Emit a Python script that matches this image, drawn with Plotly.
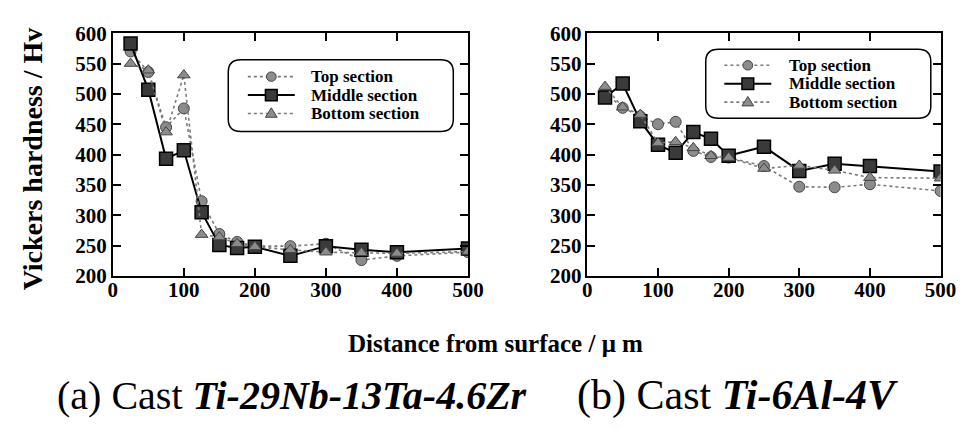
import plotly.graph_objects as go

# ---------------- data ----------------
distance = [25, 50, 75, 100, 125, 150, 175, 200, 250, 300, 350, 400, 500]

# (a) Cast Ti-29Nb-13Ta-4.6Zr
a_top    = [570, 536, 445, 476, 323, 269, 256, 249, 249, 253, 226, 233, 239]
a_middle = [583, 507, 393, 407, 305, 251, 246, 248, 233, 249, 243, 239, 245]
a_bottom = [550, 539, 437, 531, 268, 264, 253, 248, 243, 239, 238, 237, 240]

# (b) Cast Ti-6Al-4V
b_top    = [502, 477, 463, 450, 454, 406, 396, 395, 381, 347, 346, 351, 340]
b_middle = [494, 517, 455, 416, 403, 437, 426, 398, 413, 373, 385, 381, 372]
b_bottom = [512, 478, 466, 419, 421, 411, 398, 395, 377, 382, 374, 362, 361]

series_names = ["Top section", "Middle section", "Bottom section"]
x_ticks = [0, 100, 200, 300, 400, 500]
y_ticks = [200, 250, 300, 350, 400, 450, 500, 550, 600]

FONT = "Liberation Serif, Times New Roman, serif"
GRAY = "#7a7a7a"
MFILL = "#8c8c8c"
MEDGE = "#444444"
SQFILL = "#3a3a3a"

styles = {
    "Top section": dict(line=dict(color=GRAY, width=1.6, dash="dot"),
                        marker=dict(symbol="circle", size=11, color=MFILL,
                                    line=dict(color=MEDGE, width=1))),
    "Middle section": dict(line=dict(color="black", width=2),
                           marker=dict(symbol="square", size=13, color=SQFILL,
                                       line=dict(color="black", width=1.5))),
    "Bottom section": dict(line=dict(color=GRAY, width=1.6, dash="dot"),
                           marker=dict(symbol="triangle-up", size=11, color=MFILL,
                                       line=dict(color=MEDGE, width=1))),
}

fig = go.Figure()
panels = [
    ("x", "y", [a_top, a_middle, a_bottom]),
    ("x2", "y2", [b_top, b_middle, b_bottom]),
]
for xa, ya, data in panels:
    for name, vals in zip(series_names, data):
        st = styles[name]
        fig.add_trace(go.Scatter(
            x=distance, y=vals, mode="lines+markers", name=name,
            xaxis=xa, yaxis=ya,
            line=st["line"], marker=st["marker"], showlegend=False,
        ))

axis_common = dict(
    showline=True, linecolor="black", linewidth=1.5, mirror="ticks",
    ticks="inside", ticklen=8, tickwidth=1.5, tickcolor="black",
    showgrid=False, zeroline=False,
    tickfont=dict(family=FONT, size=21, color="black", weight="bold"),
)

W, H = 975, 430
def X(p):
    return p / W
def Y(p):
    return 1 - p / H

xa_extra = dict(ticklabelstandoff=-6)

fig.update_layout(
    width=W, height=H,
    margin=dict(l=0, r=0, t=0, b=0),
    paper_bgcolor="white", plot_bgcolor="white",
    font=dict(family=FONT, color="black"),
    showlegend=False,
    xaxis=dict(axis_common, **xa_extra, domain=[X(102), X(465)], range=[0, 500],
               tickvals=x_ticks, anchor="y"),
    yaxis=dict(axis_common, domain=[Y(271), Y(14)], range=[200, 600],
               tickvals=y_ticks, anchor="x"),
    xaxis2=dict(axis_common, **xa_extra, domain=[X(587), X(948)], range=[0, 500],
                tickvals=x_ticks, anchor="y2"),
    yaxis2=dict(axis_common, domain=[Y(271), Y(14)], range=[200, 600],
                tickvals=y_ticks, anchor="x2"),
)

def rounded_box(x0, y0, x1, y1, r):
    pts = (f"M {X(x0 + r)},{Y(y0)} L {X(x1 - r)},{Y(y0)} "
           f"Q {X(x1)},{Y(y0)} {X(x1)},{Y(y0 + r)} "
           f"L {X(x1)},{Y(y1 - r)} Q {X(x1)},{Y(y1)} {X(x1 - r)},{Y(y1)} "
           f"L {X(x0 + r)},{Y(y1)} Q {X(x0)},{Y(y1)} {X(x0)},{Y(y1 - r)} "
           f"L {X(x0)},{Y(y0 + r)} Q {X(x0)},{Y(y0)} {X(x0 + r)},{Y(y0)} Z")
    return dict(type="path", xref="paper", yref="paper", path=pts,
                line=dict(color="black", width=1.5), fillcolor="rgba(0,0,0,0)")

shapes = []
annotations = []

def legend_block(box, sample_x0, sample_x1, text_x, rows_y):
    shapes.append(rounded_box(*box, 13))
    mx = (sample_x0 + sample_x1) / 2
    for name, ry in zip(series_names, rows_y):
        st = styles[name]
        ln = st["line"]
        shapes.append(dict(type="line", xref="paper", yref="paper",
                           x0=X(sample_x0), x1=X(sample_x1), y0=Y(ry), y1=Y(ry),
                           line=dict(color=ln["color"], width=ln["width"],
                                     dash=ln.get("dash", "solid"))))
        sym = st["marker"]["symbol"]
        if sym == "circle":
            shapes.append(dict(type="circle", xref="paper", yref="paper",
                               x0=X(mx - 5), x1=X(mx + 5), y0=Y(ry - 5), y1=Y(ry + 5),
                               fillcolor=MFILL, line=dict(color=MEDGE, width=1)))
        elif sym == "square":
            shapes.append(dict(type="rect", xref="paper", yref="paper",
                               x0=X(mx - 6), x1=X(mx + 6), y0=Y(ry - 6), y1=Y(ry + 6),
                               fillcolor=SQFILL, line=dict(color="black", width=1.5)))
        else:
            path = (f"M {X(mx)},{Y(ry - 6)} L {X(mx + 6)},{Y(ry + 4)} "
                    f"L {X(mx - 6)},{Y(ry + 4)} Z")
            shapes.append(dict(type="path", xref="paper", yref="paper", path=path,
                               fillcolor=MFILL, line=dict(color=MEDGE, width=1)))
        annotations.append(dict(text=f"<b>{name}</b>", x=X(text_x), y=Y(ry),
                                xanchor="left", yanchor="middle", borderpad=0,
                                font=dict(family=FONT, size=17)))

legend_block((220, 42, 450, 118), 240, 288, 304, [60, 79.5, 99])
legend_block((708, 31, 938, 104), 727, 775, 792, [48, 67.5, 87])

annotations += [
    dict(text="<b>Vickers hardness / Hv</b>", x=X(20), y=Y(147),
         textangle=-90, xanchor="center", yanchor="middle",
         font=dict(family=FONT, size=28)),
    dict(text="<b>Distance from surface / \u03bc m</b>", x=X(493), y=Y(343),
         xanchor="center", yanchor="middle", font=dict(family=FONT, size=25)),
    dict(text="(a) Cast <b><i>Ti-29Nb-13Ta-4.6Zr</i></b>", x=X(285), y=Y(398),
         xanchor="center", yanchor="middle", font=dict(family=FONT, size=40)),
    dict(text="(b) Cast <b><i>Ti-6Al-4V</i></b>", x=X(740), y=Y(398),
         xanchor="center", yanchor="middle", font=dict(family=FONT, size=42)),
]
for a in annotations:
    a.update(xref="paper", yref="paper", showarrow=False)

fig.update_layout(shapes=shapes, annotations=annotations)

fig.write_html("out.html")
